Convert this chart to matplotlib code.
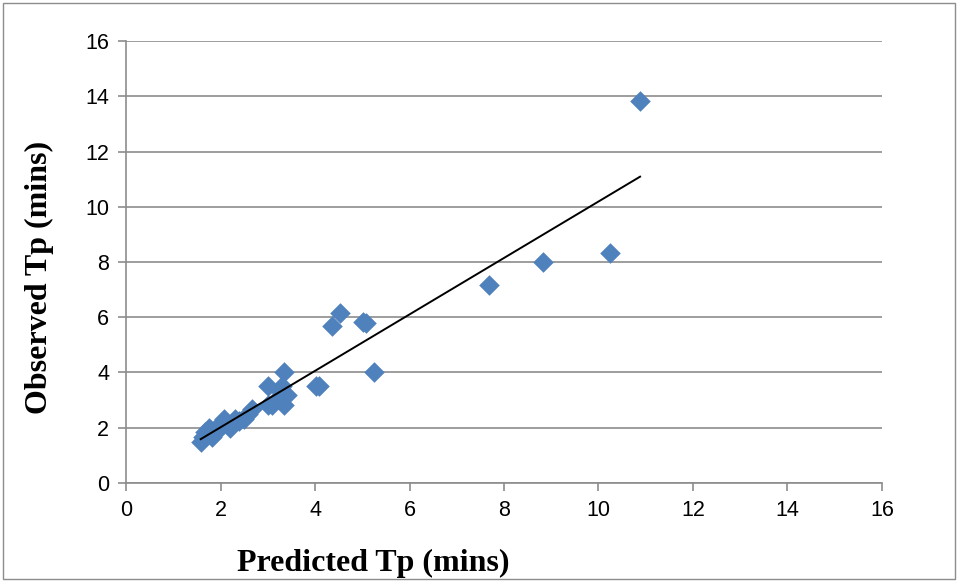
import numpy as np
import matplotlib.pyplot as plt
from matplotlib.patches import Rectangle

# predicted vs observed time to peak (mins)
predicted = [1.58, 1.62, 1.68, 1.75, 1.83, 1.9, 2.0, 2.08, 2.2, 2.25, 2.3, 2.4, 2.5, 2.58,
             2.67, 3.0, 3.0, 3.08, 3.17, 3.25, 3.3, 3.35, 3.35, 3.4,
             4.02, 4.08, 4.35, 4.52, 5.02, 5.08, 5.25, 7.68, 8.82, 10.25, 10.88]
observed = [1.5, 1.67, 1.83, 2.0, 1.67, 1.83, 2.17, 2.33, 2.0, 2.17, 2.33, 2.25, 2.33, 2.5,
            2.67, 2.83, 3.5, 2.83, 3.0, 3.33, 3.5, 4.0, 2.83, 3.17,
            3.5, 3.5, 5.67, 6.17, 5.83, 5.8, 4.0, 7.17, 8.0, 8.33, 13.83]

ticks = [0, 2, 4, 6, 8, 10, 12, 14, 16]

fig = plt.figure(figsize=(9.59, 5.81), dpi=100)
ax = fig.add_axes([0.1314, 0.1687, 0.7883, 0.7607])

ax.scatter(predicted, observed, marker='D', s=110, color='#4f81bd', zorder=3, linewidths=0)

# linear trendline
k, b = np.polyfit(predicted, observed, 1)
xs = np.array([min(predicted), max(predicted)])
ax.plot(xs, k * xs + b, color='black', lw=1.4, zorder=4)

ax.set_xlim(0, 16)
ax.set_ylim(0, 16)
ax.set_xticks(ticks)
ax.set_yticks(ticks)
ax.grid(axis='y', color='#8c8c8c', lw=1.2)
ax.set_axisbelow(True)
for s in ['top', 'right']:
    ax.spines[s].set_visible(False)
for s in ['left', 'bottom']:
    ax.spines[s].set_color('#8c8c8c')
    ax.spines[s].set_linewidth(1.2)
ax.tick_params(axis='both', colors='#8c8c8c', length=6, width=1.2, labelsize=15.5,
               labelcolor='black', pad=6)
for lab in ax.get_xticklabels() + ax.get_yticklabels():
    lab.set_family('Liberation Sans')

fig.text(373 / 959, 1 - 563 / 581, 'Predicted Tp (mins)', ha='center', va='center',
         family='Liberation Serif', weight='bold', fontsize=23)
fig.text(39 / 959, 1 - 277 / 581, 'Observed Tp (mins)', ha='center', va='center',
         rotation=90, family='Liberation Serif', weight='bold', fontsize=23)

fig.patches.append(Rectangle((0.003, 0.004), 0.993, 0.99, transform=fig.transFigure,
                             fill=False, edgecolor='#8c8c8c', lw=1))

fig.savefig('out.png', dpi=100)
